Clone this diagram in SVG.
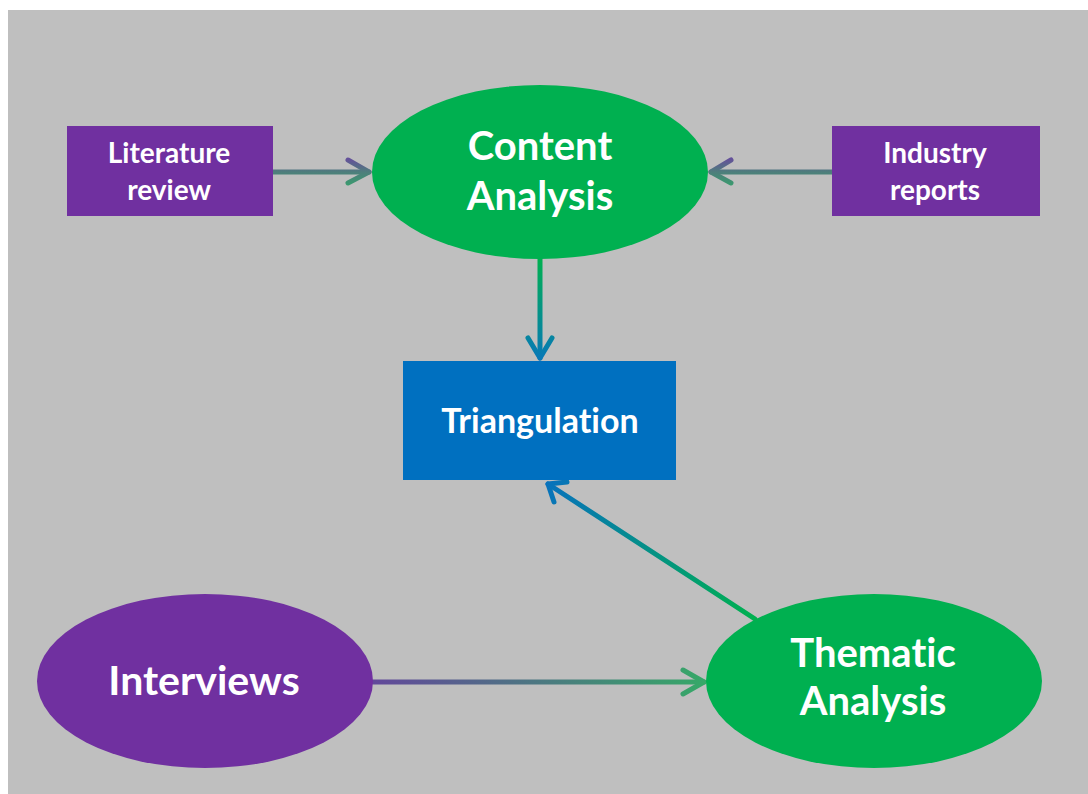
<svg xmlns="http://www.w3.org/2000/svg" width="1088" height="794" viewBox="0 0 1088 794">
  <style>
    .lbl { font-family: Lato, "Open Sans", "Liberation Sans", sans-serif; font-weight: bold; fill: #FFFFFF; text-anchor: middle; font-variant-ligatures: none; font-feature-settings: "liga" 0, "clig" 0; }
    .purple { fill: #7030A0; }
    .green { fill: #00B050; }
    .blue { fill: #0070C0; }
    .conn { fill: none; stroke-width: 5; stroke-linecap: round; stroke-linejoin: round; }
  </style>
  <defs>
    <linearGradient id="gLit" gradientUnits="userSpaceOnUse" x1="0" y1="159" x2="0" y2="185">
      <stop offset="0" stop-color="#64509A"/>
      <stop offset="0.5" stop-color="#4E7E7C"/>
      <stop offset="1" stop-color="#3A9A6E"/>
    </linearGradient>
    <linearGradient id="gDown" gradientUnits="userSpaceOnUse" x1="0" y1="259" x2="0" y2="360">
      <stop offset="0" stop-color="#00B050"/>
      <stop offset="1" stop-color="#0878B8"/>
    </linearGradient>
    <linearGradient id="gDiag" gradientUnits="userSpaceOnUse" x1="753" y1="618" x2="547" y2="483">
      <stop offset="0" stop-color="#00B050"/>
      <stop offset="1" stop-color="#0872BC"/>
    </linearGradient>
    <linearGradient id="gBottom" gradientUnits="userSpaceOnUse" x1="373" y1="0" x2="705" y2="0">
      <stop offset="0" stop-color="#62489A"/>
      <stop offset="1" stop-color="#36A868"/>
    </linearGradient>
  </defs>

  <rect x="0" y="0" width="1088" height="794" fill="#FFFFFF"/>
  <rect x="8" y="10" width="1080" height="784" fill="#BFBFBF"/>

  <g id="connectors">
    <g id="c-lit-content">
      <line class="conn" x1="273" y1="172" x2="369" y2="172" stroke="url(#gLit)"/>
      <path class="conn" d="M348,160 L369,172 L348,183" stroke="url(#gLit)"/>
    </g>
    <g id="c-ind-content">
      <line class="conn" x1="832" y1="172" x2="711" y2="172" stroke="url(#gLit)"/>
      <path class="conn" d="M731,160 L711,172 L731,183" stroke="url(#gLit)"/>
    </g>
    <g id="c-content-tri">
      <line class="conn" x1="540" y1="259" x2="540" y2="358" stroke="url(#gDown)"/>
      <path class="conn" d="M528,338 L540,358 L552,338" stroke="url(#gDown)"/>
    </g>
    <g id="c-them-tri">
      <line class="conn" x1="755" y1="619" x2="548" y2="484" stroke="url(#gDiag)"/>
      <path class="conn" d="M554,502 L548,484 L567,482" stroke="url(#gDiag)"/>
    </g>
    <g id="c-int-them">
      <line class="conn" x1="373" y1="682" x2="704" y2="682" stroke="url(#gBottom)"/>
      <path class="conn" d="M683,670 L704,682 L683,694" stroke="url(#gBottom)"/>
    </g>
  </g>

  <g id="literature-review">
    <rect class="purple" x="67" y="126" width="206" height="90"/>
    <text class="lbl" x="169" y="163" font-size="28">Literature</text>
    <text class="lbl" x="169" y="200" font-size="28">review</text>
  </g>

  <g id="industry-reports">
    <rect class="purple" x="832" y="126" width="208" height="90"/>
    <text class="lbl" x="935" y="163" font-size="28">Industry</text>
    <text class="lbl" x="935" y="200" font-size="28">reports</text>
  </g>

  <g id="content-analysis">
    <ellipse class="green" cx="540" cy="172" rx="168" ry="87"/>
    <text class="lbl" x="540" y="160" font-size="40">Content</text>
    <text class="lbl" x="540" y="210" font-size="40">Analysis</text>
  </g>

  <g id="triangulation">
    <rect class="blue" x="403" y="361" width="273" height="119"/>
    <text class="lbl" x="540" y="433" font-size="34">Triangulation</text>
  </g>

  <g id="interviews">
    <ellipse class="purple" cx="205" cy="681" rx="168" ry="87"/>
    <text class="lbl" x="204" y="695" font-size="41">Interviews</text>
  </g>

  <g id="thematic-analysis">
    <ellipse class="green" cx="874" cy="681" rx="168" ry="87"/>
    <text class="lbl" x="873" y="667" font-size="40">Thematic</text>
    <text class="lbl" x="873" y="715" font-size="40">Analysis</text>
  </g>
</svg>
